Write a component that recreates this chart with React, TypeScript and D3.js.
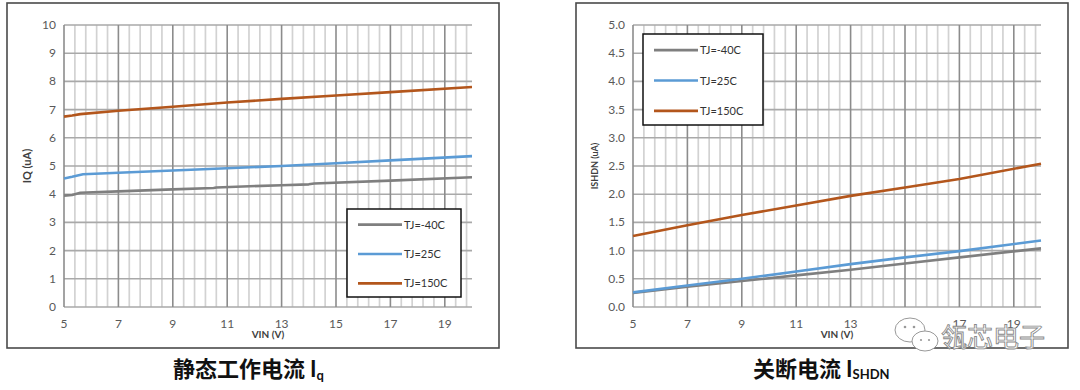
import React from "react";
import * as d3 from "d3";

// ---------- data ----------
const seriesNames = ["TJ=-40C", "TJ=25C", "TJ=150C"];
const seriesColors = ["#7f7f7f", "#5b9bd5", "#b3561c"];

// Left chart: IQ vs VIN
const iqVin = [5, 5.3, 5.6, 7, 9, 10.5, 10.6, 13, 14, 14.2, 17, 20];
const iqM40 = [3.95, 3.97, 4.05, 4.1, 4.17, 4.22, 4.24, 4.32, 4.35, 4.38, 4.48, 4.6];
const iq25Vin = [5, 5.3, 5.7, 7, 9, 11, 13, 15, 17, 20];
const iq25 = [4.56, 4.62, 4.71, 4.76, 4.84, 4.92, 5.0, 5.1, 5.2, 5.35];
const iq150Vin = [5, 5.3, 5.6, 7, 9, 11, 13, 15, 17, 20];
const iq150 = [6.75, 6.79, 6.84, 6.96, 7.1, 7.25, 7.38, 7.5, 7.62, 7.8];

// Right chart: ISHDN vs VIN
const shdnVin = [5, 7, 9, 11, 13, 15, 17, 20];
const shdnM40 = [0.25, 0.36, 0.46, 0.56, 0.66, 0.77, 0.88, 1.04];
const shdn25 = [0.26, 0.38, 0.5, 0.63, 0.76, 0.88, 0.99, 1.18];
const shdn150 = [1.26, 1.45, 1.63, 1.8, 1.97, 2.12, 2.27, 2.54];

const xTicks = [5, 7, 9, 11, 13, 15, 17, 19];
const iqYTicks = [0, 1, 2, 3, 4, 5, 6, 7, 8, 9, 10];
const shdnYTicks = [0, 0.5, 1.0, 1.5, 2.0, 2.5, 3.0, 3.5, 4.0, 4.5, 5.0];
const minorStep = 0.4;

type Pt = [number, number];
const zip = (xs: number[], ys: number[]): Pt[] => xs.map((x, i) => [x, ys[i]]);

const FONT = "Lato, 'Noto Sans', sans-serif";
const CJK = "'Noto Sans CJK SC', sans-serif";

interface ChartProps {
  frame: [number, number, number, number];
  plot: [number, number, number, number];
  yMax: number;
  yTicks: number[];
  yFmt: (v: number) => string;
  yLabel: string;
  yLabelX: number;
  yLabelSize: number;
  series: Pt[][];
  legend: [number, number, number, number];
}

function Chart(p: ChartProps) {
  const [px0, py0, px1, py1] = p.plot;
  const x = d3.scaleLinear().domain([5, 20]).range([px0, px1]);
  const y = d3.scaleLinear().domain([0, p.yMax]).range([py1, py0]);
  const line = d3
    .line<Pt>()
    .x((d) => x(d[0]))
    .y((d) => y(d[1]));
  const minor = d3.range(0, 38).map((k) => 5 + k * minorStep);
  const [fx0, fy0, fx1, fy1] = p.frame;
  const [lx0, ly0, lx1, ly1] = p.legend;
  const lh = (ly1 - ly0) / 3;
  return (
    <g>
      <rect x={fx0} y={fy0} width={fx1 - fx0} height={fy1 - fy0} fill="#fff" stroke="#4a4a4a" strokeWidth={1.6} />
      {minor.map((v, i) =>
        i % 5 === 0 ? null : (
          <line key={"m" + i} x1={x(v)} x2={x(v)} y1={py0} y2={py1} stroke="#d2d2d2" strokeWidth={1.7} />
        )
      )}
      {p.yTicks.map((v) => (
        <line key={"h" + v} x1={px0} x2={px1} y1={y(v)} y2={y(v)} stroke="#a9a9a9" strokeWidth={1.6} />
      ))}
      {xTicks.map((v) => (
        <line key={"M" + v} x1={x(v)} x2={x(v)} y1={py0} y2={py1} stroke="#8c8c8c" strokeWidth={1.6} />
      ))}
      {p.series.map((s, i) => (
        <path key={"s" + i} d={line(s) || ""} fill="none" stroke={seriesColors[i]} strokeWidth={2.6} strokeLinejoin="round" />
      ))}
      {p.yTicks.map((v) => (
        <text key={"yt" + v} x={px0 - 8} y={y(v) + 4} textAnchor="end" fontFamily={FONT} fontSize={12} fill="#595959">
          {p.yFmt(v)}
        </text>
      ))}
      {xTicks.map((v) => (
        <text key={"xt" + v} x={x(v)} y={328} textAnchor="middle" fontFamily={FONT} fontSize={12} fill="#595959">
          {v}
        </text>
      ))}
      <text x={(px0 + px1) / 2} y={338} textAnchor="middle" fontFamily={FONT} fontWeight="bold" fontSize={10} fill="#404040">
        VIN (V)
      </text>
      <text
        transform={`translate(${p.yLabelX},${(py0 + py1) / 2}) rotate(-90)`}
        textAnchor="middle"
        fontFamily={FONT}
        fontWeight="bold"
        fontSize={p.yLabelSize}
        fill="#404040"
      >
        {p.yLabel}
      </text>
      <rect x={lx0} y={ly0} width={lx1 - lx0} height={ly1 - ly0} fill="#fff" stroke="#111" strokeWidth={1.5} />
      {seriesNames.map((n, i) => {
        const cy = ly0 + lh * (i + 0.5) + 1;
        return (
          <g key={"lg" + i}>
            <line x1={lx0 + 11} x2={lx0 + 55} y1={cy} y2={cy} stroke={seriesColors[i]} strokeWidth={2.6} />
            <text x={lx0 + 57} y={cy + 4} fontFamily={FONT} fontSize={11} fill="#333">
              {n}
            </text>
          </g>
        );
      })}
    </g>
  );
}

export default function App() {
  return (
    <svg width={1080} height={390} style={{ position: "absolute", left: 0, top: 0, background: "#fff" }}>
      <rect x={0} y={0} width={1080} height={390} fill="#fff" />
      <Chart
        frame={[7, 3, 499, 348]}
        plot={[64, 25, 472, 307]}
        yMax={10}
        yTicks={iqYTicks}
        yFmt={(v) => String(v)}
        yLabel="IQ (uA)"
        yLabelX={31}
        yLabelSize={11}
        series={[zip(iqVin, iqM40), zip(iq25Vin, iq25), zip(iq150Vin, iq150)]}
        legend={[347, 209, 461, 297]}
      />
      <Chart
        frame={[576, 3, 1068, 348]}
        plot={[633, 25, 1041, 307]}
        yMax={5}
        yTicks={shdnYTicks}
        yFmt={(v) => v.toFixed(1)}
        yLabel="ISHDN (uA)"
        yLabelX={598}
        yLabelSize={9}
        series={[zip(shdnVin, shdnM40), zip(shdnVin, shdn25), zip(shdnVin, shdn150)]}
        legend={[643, 34, 763, 125]}
      />
      <text x={173} y={377} fontFamily={CJK} fontWeight="bold" fontSize={22} fill="#111">
        静态工作电流
        <tspan dx={5} fontFamily={FONT}>I</tspan>
        <tspan fontFamily={FONT} fontSize={13} dy={3}>q</tspan>
      </text>
      <text x={753} y={377} fontFamily={CJK} fontWeight="bold" fontSize={22} fill="#111">
        关断电流
        <tspan dx={5} fontFamily={FONT}>I</tspan>
        <tspan fontFamily={FONT} fontSize={13} dy={2}>SHDN</tspan>
      </text>
      <g>
        <ellipse cx={910} cy={330} rx={15} ry={12} fill="#fff" stroke="#999" strokeWidth={1} />
        <ellipse cx={925} cy={341} rx={13} ry={10} fill="#fff" stroke="#999" strokeWidth={1} />
        <circle cx={905} cy={327} r={1.3} fill="#999" />
        <circle cx={914} cy={327} r={1.3} fill="#999" />
        <circle cx={921} cy={340} r={1.1} fill="#999" />
        <circle cx={929} cy={340} r={1.1} fill="#999" />
        <text x={941} y={347} fontFamily={CJK} fontSize={26} fill="#fff" stroke="#8a8a8a" strokeWidth={0.9}>
          瓴芯电子
        </text>
      </g>
    </svg>
  );
}
